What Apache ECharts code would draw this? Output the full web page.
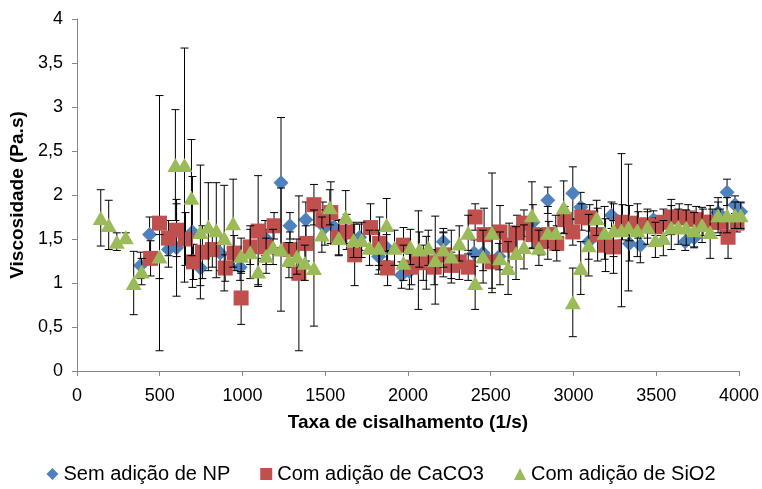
<!DOCTYPE html>
<html>
<head>
<meta charset="utf-8">
<script src="https://cdn.jsdelivr.net/npm/echarts@6/dist/echarts.min.js"></script>
<style>html,body{margin:0;padding:0;background:#fff}#c{width:762px;height:489px}</style>
</head>
<body>
<div id="c"></div>
<script>
// ---- Data ----
var seriesNames = ['Sem adição de NP', 'Com adição de CaCO3', 'Com adição de SiO2'];
var xTicks = [0, 500, 1000, 1500, 2000, 2500, 3000, 3500, 4000];
var yTicks = [0, 0.5, 1, 1.5, 2, 2.5, 3, 3.5, 4];

var npX = [385, 439, 553, 602, 698, 746, 866, 986, 1137, 1233, 1287, 1383, 1498, 1552, 1708, 1823, 1871, 1961, 2009, 2093, 2214, 2400, 2454, 2550, 2755, 2845, 2996, 3044, 3092, 3230, 3338, 3404, 3483, 3675, 3729, 3874, 3928, 3976, 4010];
var npY = [1.20, 1.55, 1.38, 1.40, 1.58, 1.17, 1.34, 1.18, 1.51, 2.14, 1.65, 1.72, 1.63, 1.64, 1.52, 1.30, 1.40, 1.09, 1.13, 1.23, 1.47, 1.34, 1.34, 1.30, 1.69, 1.94, 2.02, 1.86, 1.47, 1.77, 1.45, 1.43, 1.72, 1.47, 1.51, 1.80, 2.03, 1.89, 1.81];
var npErr = [0.15, 0.2, 0.2, 0.55, 0.63, 0.2, 0.2, 0.15, 0.2, 0.74, 0.15, 0.2, 0.2, 0.2, 0.15, 0.2, 0.15, 0.15, 0.2, 0.2, 0.15, 0.15, 0.2, 0.15, 0.2, 0.15, 0.3, 0.17, 0.2, 0.15, 0.2, 0.2, 0.1, 0.1, 0.1, 0.12, 0.15, 0.1, 0.1];

var caX = [445, 499, 553, 602, 656, 704, 758, 818, 896, 950, 992, 1047, 1095, 1143, 1191, 1287, 1341, 1383, 1432, 1486, 1534, 1582, 1630, 1678, 1774, 1829, 1877, 1973, 2021, 2063, 2111, 2159, 2214, 2262, 2310, 2364, 2406, 2460, 2508, 2556, 2611, 2659, 2701, 2755, 2803, 2851, 2899, 2947, 2996, 3050, 3098, 3146, 3194, 3242, 3296, 3338, 3392, 3447, 3495, 3543, 3591, 3639, 3693, 3741, 3783, 3838, 3886, 3934, 3988];
var caY = [1.28, 1.68, 1.51, 1.60, 1.50, 1.24, 1.35, 1.38, 1.17, 1.34, 0.83, 1.41, 1.59, 1.41, 1.65, 1.38, 1.11, 1.45, 1.89, 1.72, 1.80, 1.52, 1.58, 1.32, 1.63, 1.45, 1.17, 1.43, 1.18, 1.26, 1.23, 1.18, 1.32, 1.20, 1.24, 1.18, 1.75, 1.55, 1.24, 1.58, 1.43, 1.57, 1.68, 1.55, 1.47, 1.55, 1.45, 1.72, 1.58, 1.75, 1.74, 1.55, 1.43, 1.41, 1.69, 1.68, 1.66, 1.66, 1.64, 1.69, 1.75, 1.75, 1.74, 1.72, 1.69, 1.69, 1.69, 1.52, 1.68];
var caErr = [0.2, 1.45, 0.2, 0.3, 0.3, 0.2, 0.3, 0.2, 0.15, 0.2, 0.3, 0.2, 0.63, 0.2, 0.15, 0.2, 0.88, 0.2, 0.23, 0.2, 0.35, 0.2, 0.2, 0.35, 0.27, 0.3, 0.2, 0.2, 0.2, 0.56, 0.3, 0.2, 0.25, 0.15, 0.2, 0.15, 0.15, 0.3, 0.3, 0.3, 0.25, 0.2, 0.15, 0.15, 0.15, 0.15, 0.2, 0.15, 0.15, 0.15, 0.15, 0.3, 0.3, 0.3, 0.2, 0.2, 0.15, 0.15, 0.1, 0.15, 0.2, 0.15, 0.15, 0.15, 0.15, 0.15, 0.15, 0.24, 0.1];

var siX = [144, 192, 241, 295, 343, 391, 499, 595, 650, 692, 746, 794, 842, 890, 944, 992, 1047, 1095, 1143, 1185, 1233, 1281, 1329, 1377, 1432, 1480, 1528, 1582, 1624, 1672, 1720, 1768, 1823, 1871, 1919, 1973, 2015, 2069, 2123, 2165, 2214, 2262, 2310, 2364, 2406, 2454, 2508, 2556, 2605, 2653, 2701, 2749, 2791, 2845, 2893, 2941, 2996, 3044, 3092, 3140, 3188, 3242, 3290, 3332, 3386, 3447, 3495, 3543, 3591, 3633, 3681, 3729, 3777, 3826, 3874, 3928, 3976, 4010];
var siY = [1.74, 1.66, 1.47, 1.52, 1.00, 1.13, 1.30, 2.34, 2.34, 1.97, 1.58, 1.64, 1.60, 1.51, 1.68, 1.31, 1.35, 1.13, 1.31, 1.41, 1.38, 1.26, 1.30, 1.23, 1.17, 1.55, 1.86, 1.51, 1.75, 1.49, 1.49, 1.40, 1.40, 1.66, 1.40, 1.23, 1.41, 1.38, 1.40, 1.26, 1.38, 1.30, 1.45, 1.57, 1.00, 1.30, 1.57, 1.28, 1.17, 1.34, 1.41, 1.77, 1.40, 1.57, 1.57, 1.86, 0.78, 1.17, 1.43, 1.74, 1.57, 1.60, 1.60, 1.63, 1.60, 1.64, 1.49, 1.51, 1.63, 1.64, 1.63, 1.60, 1.66, 1.58, 1.77, 1.77, 1.77, 1.77];
var siErr = [0.32, 0.28, 0.1, 0.05, 0.36, 0.15, 0.25, 0.63, 1.33, 0.66, 0.76, 0.5, 0.54, 0.6, 0.5, 0.2, 0.3, 0.15, 0.2, 0.2, 0.7, 0.2, 0.2, 0.2, 0.66, 0.2, 0.2, 0.2, 0.3, 0.2, 0.2, 0.2, 0.2, 0.3, 0.2, 0.2, 0.2, 0.2, 0.2, 0.5, 0.2, 0.3, 0.2, 0.2, 0.3, 0.3, 0.68, 0.3, 0.3, 0.3, 0.25, 0.38, 0.2, 0.3, 0.2, 0.3, 0.39, 0.3, 0.35, 0.2, 0.3, 0.3, 0.87, 0.72, 0.3, 0.2, 0.2, 0.2, 0.25, 0.2, 0.2, 0.2, 0.2, 0.3, 0.2, 0.2, 0.15, 0.15];

// ---- Build ----
function pack(xs, ys, es) {
  return xs.map(function (x, i) { return [x, ys[i], es[i]]; });
}
var sets = [pack(npX, npY, npErr), pack(caX, caY, caErr), pack(siX, siY, siErr)];
var colors = ['#4F81BD', '#C0504D', '#9BBB59'];
var symbols = ['diamond', 'rect', 'triangle'];
var sizes = [[15, 15], [15, 15], [16, 14]];

function errRender(params, api) {
  var x = api.value(0), y = api.value(1), e = api.value(2);
  var top = api.coord([x, y + e]);
  var bot = api.coord([x, y - e]);
  var c = 4;
  var st = { stroke: '#000', lineWidth: 1 };
  return {
    type: 'group',
    children: [
      { type: 'line', shape: { x1: top[0], y1: top[1], x2: bot[0], y2: bot[1] }, style: st },
      { type: 'line', shape: { x1: top[0] - c, y1: top[1], x2: top[0] + c, y2: top[1] }, style: st },
      { type: 'line', shape: { x1: bot[0] - c, y1: bot[1], x2: bot[0] + c, y2: bot[1] }, style: st }
    ]
  };
}

var series = [];
sets.forEach(function (d, i) {
  series.push({
    type: 'custom', name: seriesNames[i] + ' err', renderItem: errRender,
    data: d, clip: false, silent: true, z: 2 + i * 2, encode: { x: 0, y: 1 }
  });
  series.push({
    type: 'scatter', name: seriesNames[i], data: d.map(function (p) { return [p[0], p[1]]; }),
    symbol: symbols[i], symbolSize: sizes[i], clip: false,
    itemStyle: { color: colors[i], opacity: 1 }, z: 3 + i * 2
  });
});

var font = 'Liberation Sans, Arial, sans-serif';
var chart = echarts.init(document.getElementById('c'), null, { renderer: 'canvas' });
chart.setOption({
  animation: false,
  backgroundColor: '#fff',
  grid: { left: 74, right: 23, top: 19, bottom: 118 },
  xAxis: {
    type: 'value', min: xTicks[0], max: xTicks[xTicks.length - 1], interval: 500,
    name: 'Taxa de cisalhamento (1/s)', nameLocation: 'middle', nameGap: 42,
    nameTextStyle: { fontFamily: font, fontSize: 19, fontWeight: 'bold', color: '#000' },
    axisLine: { lineStyle: { color: '#868686' } },
    axisTick: { show: true, length: 5, lineStyle: { color: '#868686' } },
    axisLabel: {
      fontFamily: font, fontSize: 18, color: '#000', margin: 16,
      formatter: function (v) { return String(v); }
    },
    splitLine: { show: false }
  },
  yAxis: {
    type: 'value', min: yTicks[0], max: yTicks[yTicks.length - 1], interval: 0.5,
    name: 'Viscosidade (Pa.s)', nameLocation: 'middle', nameGap: 49, nameRotate: 90,
    nameTextStyle: { fontFamily: font, fontSize: 19, fontWeight: 'bold', color: '#000' },
    axisLine: { show: true, lineStyle: { color: '#868686' } },
    axisTick: { show: true, length: 5, lineStyle: { color: '#868686' } },
    axisLabel: {
      fontFamily: font, fontSize: 18, color: '#000', margin: 14,
      formatter: function (v) { return String(v).replace('.', ','); }
    },
    splitLine: { show: false }
  },
  legend: {
    top: 459, left: 'center', itemGap: 30, itemWidth: 12, itemHeight: 12,
    textStyle: { fontFamily: font, fontSize: 20, color: '#000' },
    data: seriesNames.map(function (n, i) { return { name: n, icon: symbols[i] }; })
  },
  series: series
});
</script>
</body>
</html>
